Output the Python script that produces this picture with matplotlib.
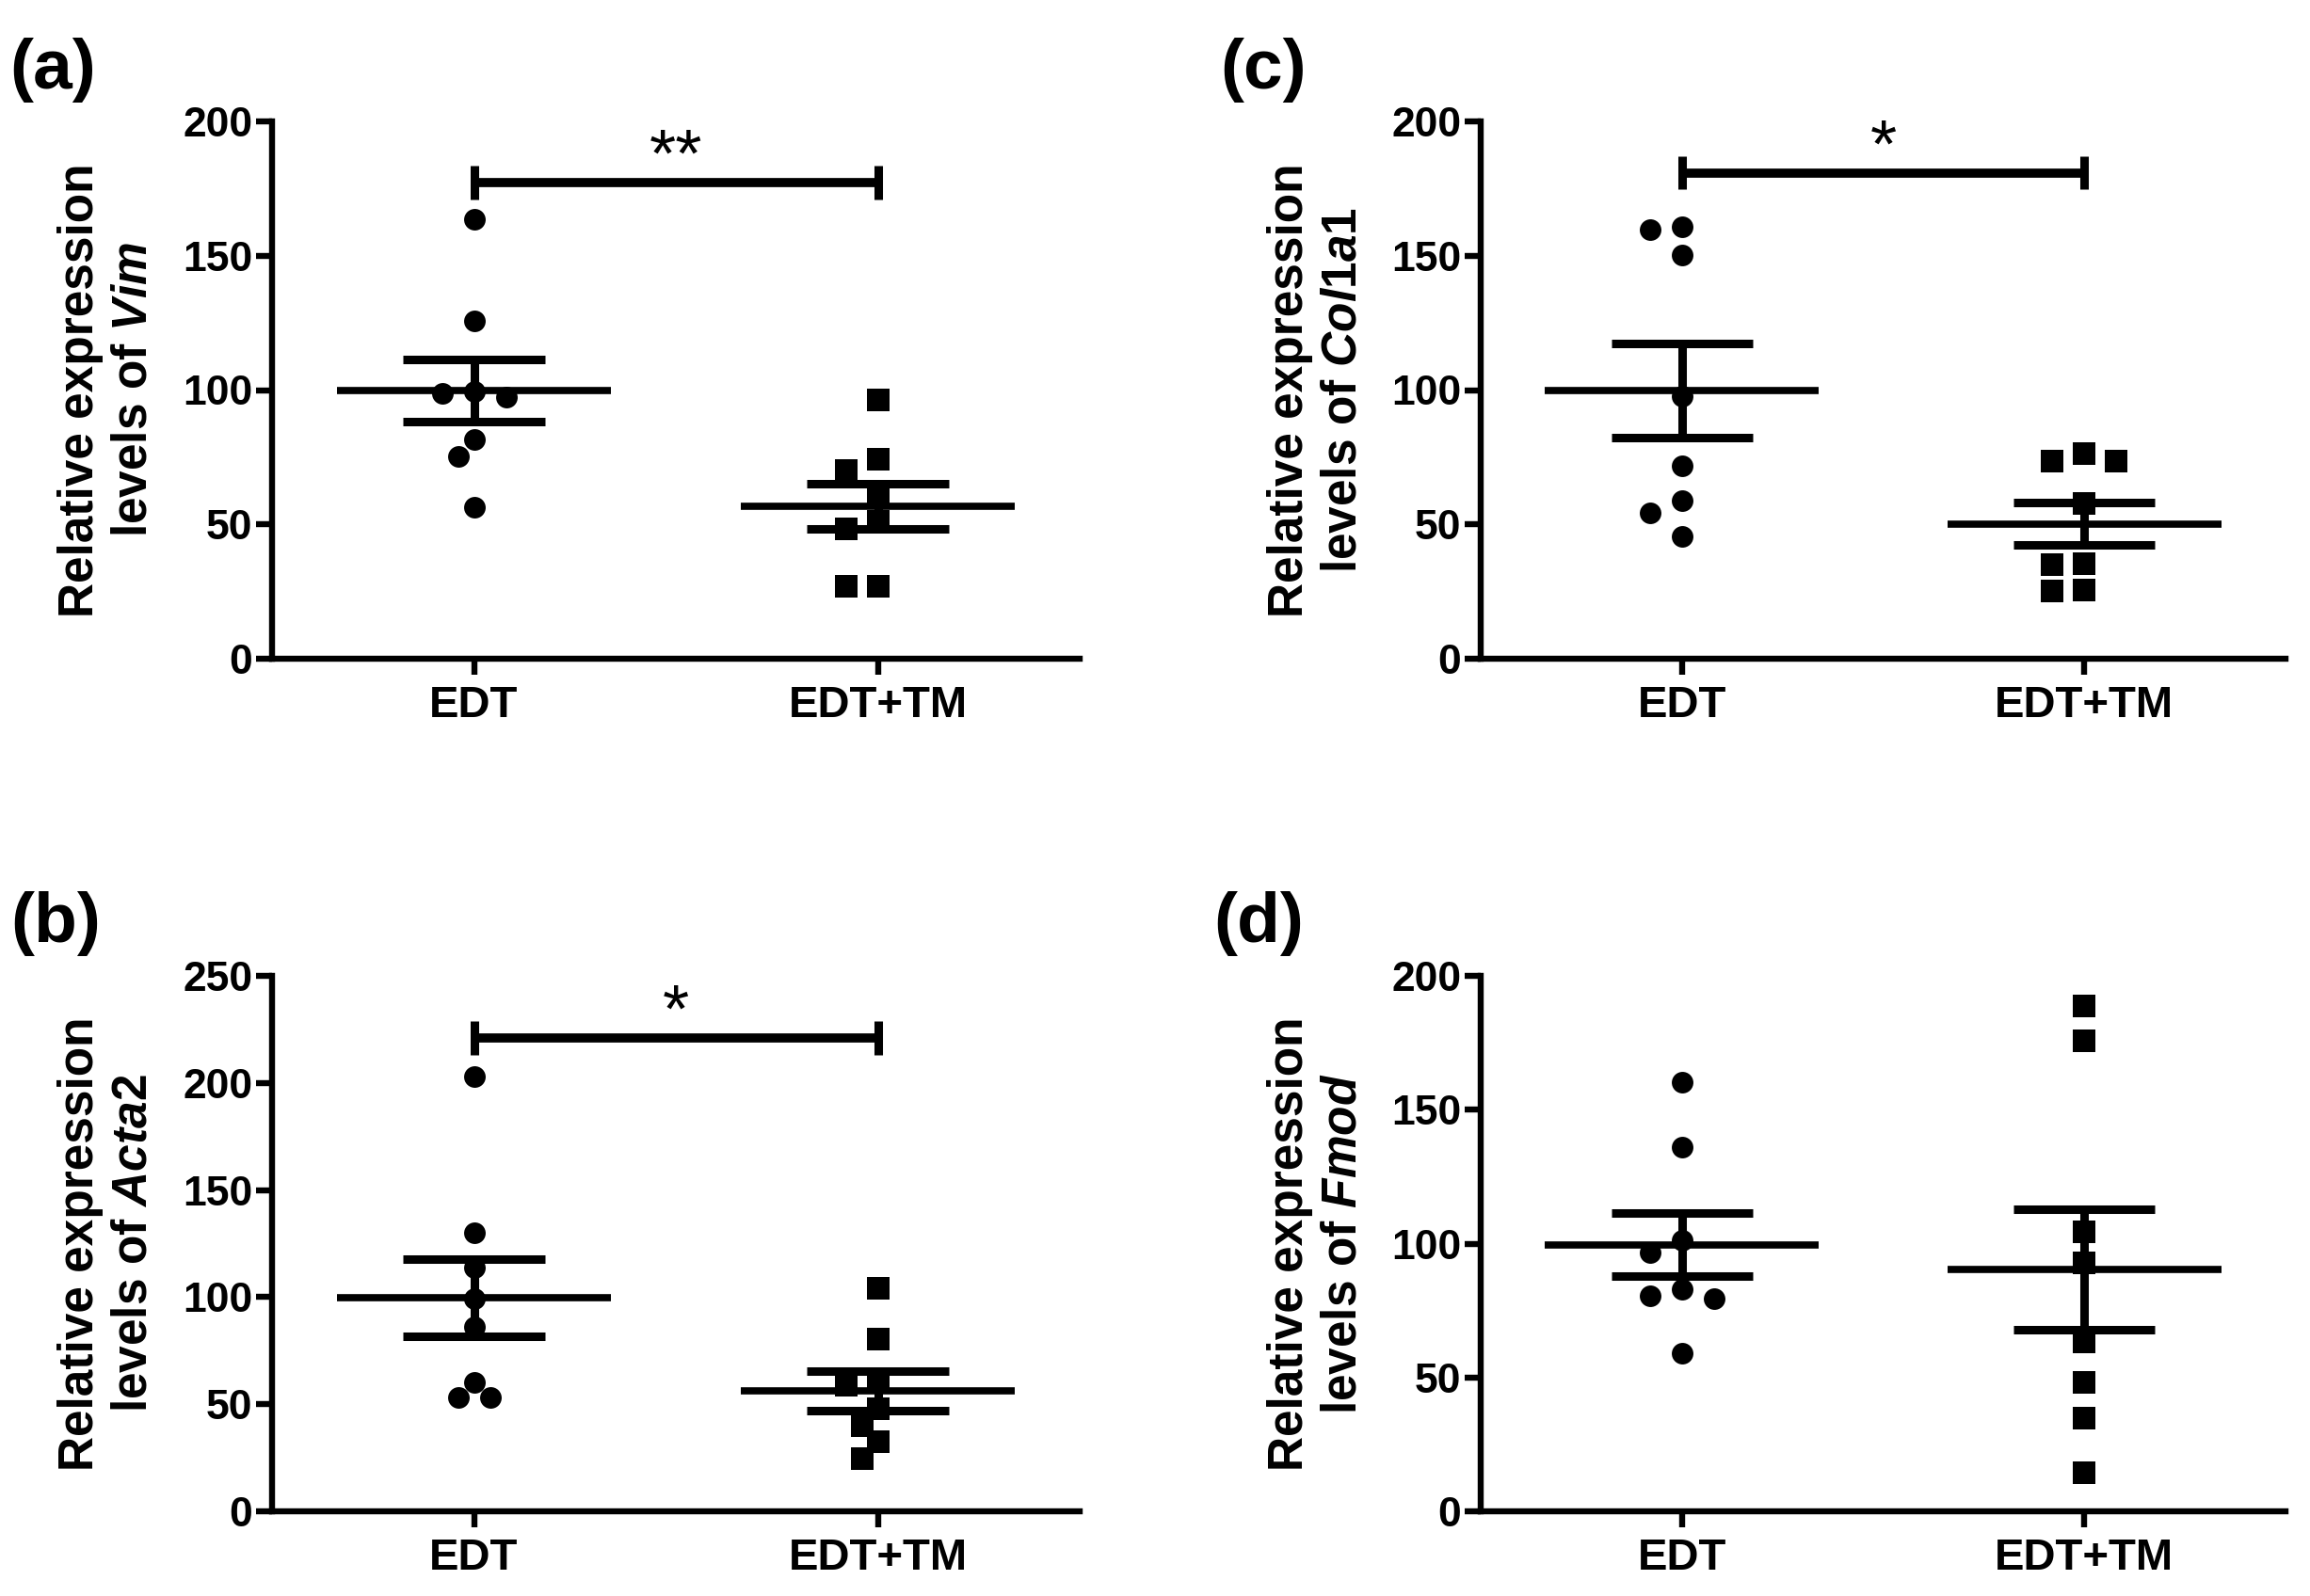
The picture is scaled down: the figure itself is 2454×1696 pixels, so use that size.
import numpy as np
import matplotlib
matplotlib.use("Agg")
import matplotlib.pyplot as plt

# relative expression values (8 animals per group)
groups = ["EDT", "EDT+TM"]

vim_edt = [163.6, 125.9, 99.6, 98.7, 97.2, 81.6, 75.3, 56.5]
vim_tm = [96.3, 74.4, 70.0, 61.0, 51.1, 48.4, 26.9, 26.9]

acta2_edt = [203.1, 129.9, 113.8, 99.3, 85.9, 60.3, 53.1, 53.1]
acta2_tm = [104.2, 80.4, 60.3, 59.0, 48.0, 40.2, 32.4, 24.6]

col1a1_edt = [160.9, 159.6, 150.1, 97.8, 71.7, 58.7, 54.2, 45.7]
col1a1_tm = [76.2, 73.5, 73.5, 57.8, 35.5, 35.0, 25.5, 25.1]

fmod_edt = [160.2, 136.1, 101.4, 96.8, 83.0, 80.4, 79.5, 58.9]
fmod_tm = [188.8, 175.9, 104.5, 92.9, 63.4, 48.2, 34.8, 14.3]

# significance brackets: (height, stars)
sig_vim = (177.3, "**")
sig_acta2 = (221.0, "*")
sig_col1a1 = (180.9, "*")

plt.rcParams["font.family"] = ["Liberation Sans", "DejaVu Sans"]
plt.rcParams["mathtext.fontset"] = "custom"
plt.rcParams["mathtext.it"] = "Liberation Sans:italic:bold"
plt.rcParams["mathtext.rm"] = "Liberation Sans:bold"
plt.rcParams["mathtext.bf"] = "Liberation Sans:bold"

W, H = 2454, 1696
fig = plt.figure(figsize=(W / 100, H / 100), dpi=100)
fig.patch.set_facecolor("white")


def axes_px(left, top, right, bottom):
	return fig.add_axes([left / W, 1 - bottom / H, (right - left) / W, (bottom - top) / H])


def swarm_offsets(ax, xc, vals, diam=23.0, step=17.0):
	# simple beeswarm in pixel space, returns offsets in data units
	tr = ax.transData
	ys = [tr.transform((xc, v))[1] for v in vals]
	px_per_x = tr.transform((1, 0))[0] - tr.transform((0, 0))[0]
	cands = [0]
	for k in range(1, 8):
		cands += [-k, k]
	placed = []
	offs = []
	for y in ys:
		for k in cands:
			dx = k * step
			if all((dx - px) ** 2 + (y - py) ** 2 >= diam ** 2 for px, py in placed):
				break
		placed.append((dx, y))
		offs.append(dx / px_per_x)
	return np.array(offs)


def draw_panel(ax, edt, tm, ymax, gene, sig=None):
	ax.set_xlim(-0.5, 1.5)
	ax.set_ylim(0, ymax)
	for i, (vals, mk, ms) in enumerate([(edt, "o", 16.5), (tm, "s", 17)]):
		vals = np.array(vals)
		xs = i + swarm_offsets(ax, i, vals)
		ax.plot(xs, vals, ls="none", marker=mk, ms=ms, color="black", mew=0, zorder=3, clip_on=False)
		m = vals.mean()
		sem = vals.std(ddof=1) / np.sqrt(len(vals))
		ax.plot([i - 0.34, i + 0.34], [m, m], color="black", lw=5.5, solid_capstyle="butt", zorder=4)
		for y in (m - sem, m + sem):
			ax.plot([i - 0.175, i + 0.175], [y, y], color="black", lw=6.5, solid_capstyle="butt", zorder=4)
		ax.plot([i, i], [m - sem, m + sem], color="black", lw=6.5, solid_capstyle="butt", zorder=4)

	if sig is not None:
		yb, stars = sig
		cap = 0.031 * ymax
		ax.plot([0, 1], [yb, yb], color="black", lw=7, solid_capstyle="butt", zorder=4)
		ax.plot([0, 0], [yb - cap, yb + cap], color="black", lw=6.5, solid_capstyle="butt", zorder=4)
		ax.plot([1, 1], [yb - cap, yb + cap], color="black", lw=6.5, solid_capstyle="butt", zorder=4)
		ax.annotate(stars, xy=(0.5, yb), xytext=(0, 4.5), textcoords="offset points",
			ha="center", va="baseline", fontsize=52, fontweight="normal")

	for s in ("top", "right"):
		ax.spines[s].set_visible(False)
	for s in ("left", "bottom"):
		ax.spines[s].set_linewidth(4.6)
	ax.set_xticks([0, 1])
	ax.set_xticklabels(groups, fontsize=34, fontweight="bold")
	ax.set_yticks(np.arange(0, ymax + 1, 50))
	ax.tick_params(axis="y", width=4.6, length=12.5, labelsize=32, pad=2.5)
	ax.tick_params(axis="x", width=4.6, length=12.5, labelsize=34, pad=7.5)
	for t in ax.get_yticklabels():
		t.set_fontweight("bold")
	ax.text(-0.204, 0.5, "Relative expression\nlevels of $\\mathit{" + gene + "}$",
		transform=ax.transAxes, rotation=90, ha="center", va="center",
		fontsize=37, fontweight="bold", multialignment="center")


ax_a = axes_px(289, 129, 1147, 700)
ax_c = axes_px(1573, 129, 2428, 700)
ax_b = axes_px(289, 1037, 1147, 1606)
ax_d = axes_px(1573, 1037, 2428, 1606)

draw_panel(ax_a, vim_edt, vim_tm, 200, "Vim", sig_vim)
draw_panel(ax_c, col1a1_edt, col1a1_tm, 200, "Col1a1", sig_col1a1)
draw_panel(ax_b, acta2_edt, acta2_tm, 250, "Acta2", sig_acta2)
draw_panel(ax_d, fmod_edt, fmod_tm, 200, "Fmod")

for lab, x, y in [("(a)", 10, 94), ("(c)", 1296, 94), ("(b)", 11, 1001), ("(d)", 1289, 1001)]:
	fig.text(x / W, 1 - y / H, lab, ha="left", va="baseline", fontsize=54, fontweight="bold")

fig.savefig("out.png", dpi=100, facecolor="white")
